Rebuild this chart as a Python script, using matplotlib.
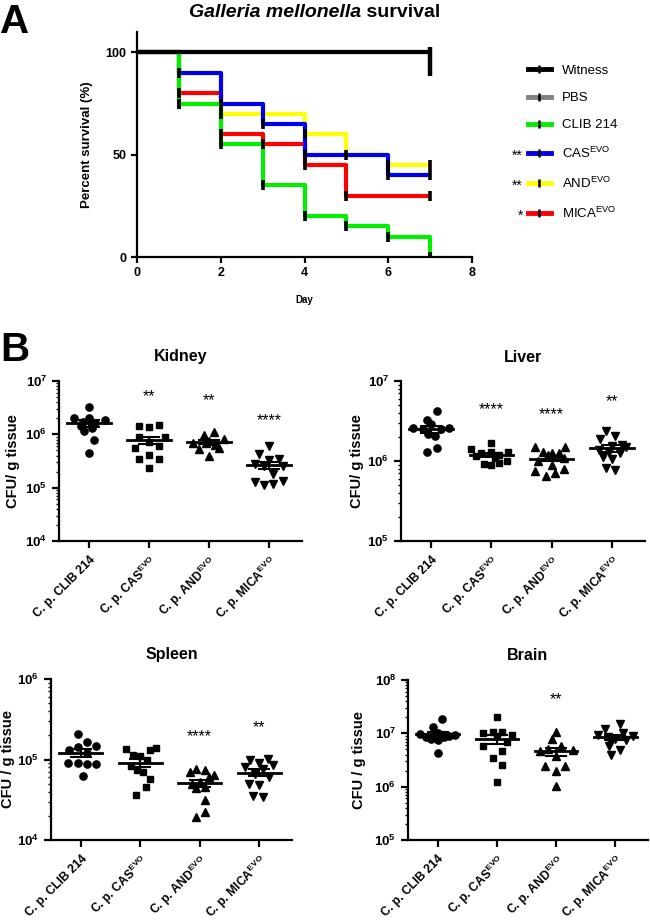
import numpy as np
import matplotlib
matplotlib.use('Agg')
import matplotlib.pyplot as plt
from matplotlib.path import Path
from matplotlib.lines import Line2D
from matplotlib.ticker import FixedLocator, FuncFormatter, LogLocator, NullFormatter

plt.rcParams['font.family'] = ['Liberation Sans', 'DejaVu Sans']
plt.rcParams['mathtext.fontset'] = 'custom'
plt.rcParams['mathtext.rm'] = 'Liberation Sans'
plt.rcParams['mathtext.bf'] = 'Liberation Sans:bold'
plt.rcParams['mathtext.it'] = 'Liberation Sans:italic'

# ---------------- data: panel A (survival, %) ----------------
days = [0, 1, 2, 3, 4, 5, 6, 7]
surv_witness = [100, 100, 100, 100, 100, 100, 100, 100]
surv_pbs = [100, 100, 100, 100, 100, 100, 100, 100]
surv_clib = [100, 75, 55, 35, 20, 15, 10, 0]
surv_cas = [100, 90, 75, 65, 50, 50, 40, 40]
surv_and = [100, 75, 70, 70, 60, 50, 45, 45]
surv_mica = [100, 80, 60, 55, 45, 30, 30, 30]
group_labels = ['Witness', 'PBS', 'CLIB 214', r'CAS$^{\mathrm{EVO}}$',
                r'AND$^{\mathrm{EVO}}$', r'MICA$^{\mathrm{EVO}}$']
group_stars = ['', '', '', '**', '**', '*']

# ---------------- data: panel B (CFU / g tissue) ----------------
strains = [r'C. p. CLIB 214', r'C. p. CAS$^{\mathbf{EVO}}$',
           r'C. p. AND$^{\mathbf{EVO}}$', r'C. p. MICA$^{\mathbf{EVO}}$']

kidney_clib = [3.3e6, 2.0e6, 2.05e6, 1.83e6, 1.74e6, 1.62e6, 1.45e6, 1.29e6, 1.16e6, 7.8e5, 4.4e5]
kidney_cas = [1.45e6, 1.39e6, 1.5e6, 9.1e5, 8.8e5, 7.3e5, 5.5e5, 6.0e5, 3.5e5, 4.1e5, 3.4e5, 2.3e5]
kidney_and = [1.1e6, 9.8e5, 8.1e5, 7.6e5, 7.0e5, 6.8e5, 6.2e5, 5.5e5, 5.3e5, 4.0e5]
kidney_mica = [6.0e5, 4.2e5, 3.5e5, 3.3e5, 2.8e5, 2.6e5, 2.5e5, 1.8e5, 1.27e5, 1.1e5, 1.15e5, 1.33e5]
kidney_sig = ['', '**', '**', '****']

liver_clib = [4.2e6, 3.3e6, 2.9e6, 2.6e6, 2.6e6, 2.5e6, 2.5e6, 2.2e6, 2.05e6, 1.47e6, 1.3e6]
liver_cas = [1.7e6, 1.4e6, 1.3e6, 1.3e6, 1.25e6, 1.2e6, 1.15e6, 1.1e6, 1.0e6, 9.5e5, 9.2e5, 8.8e5]
liver_and = [1.5e6, 1.5e6, 1.3e6, 1.26e6, 1.26e6, 1.2e6, 1.1e6, 1.0e6, 8.9e5, 7.9e5, 7.6e5, 7.1e5, 6.5e5]
liver_mica = [2.4e6, 2.05e6, 1.87e6, 1.6e6, 1.55e6, 1.5e6, 1.37e6, 1.3e6, 1.25e6, 1.11e6, 1.05e6, 8.2e5, 7.7e5]
liver_sig = ['', '****', '****', '**']

spleen_clib = [2.1e5, 1.67e5, 1.48e5, 1.42e5, 1.3e5, 1.2e5, 9.0e4, 9.0e4, 8.9e4, 8.8e4, 6.2e4]
spleen_cas = [1.4e5, 1.35e5, 1.3e5, 1.15e5, 1.1e5, 9.8e4, 8.2e4, 7.5e4, 7.0e4, 5.8e4, 4.6e4, 3.6e4]
spleen_and = [7.6e4, 7.4e4, 7.0e4, 6.4e4, 6.0e4, 5.2e4, 5.0e4, 4.6e4, 4.4e4, 3.1e4, 2.25e4, 1.95e4]
spleen_mica = [1.02e5, 9.8e4, 9.0e4, 8.5e4, 8.0e4, 7.6e4, 6.6e4, 6.0e4, 5.0e4, 4.8e4, 3.5e4, 3.4e4]
spleen_sig = ['', '', '****', '**']

brain_clib = [1.85e7, 1.33e7, 1.0e7, 9.8e6, 9.5e6, 9.0e6, 8.7e6, 8.5e6, 7.8e6, 7.5e6, 4.2e6]
brain_cas = [2.0e7, 1.07e7, 1.05e7, 1.0e7, 9.3e6, 9.0e6, 6.9e6, 5.7e6, 4.7e6, 3.4e6, 2.6e6, 1.23e6]
brain_and = [1.07e7, 7.8e6, 5.8e6, 5.0e6, 4.8e6, 4.6e6, 3.7e6, 2.4e6, 2.4e6, 2.0e6, 1.02e6]
brain_mica = [1.48e7, 1.2e7, 1.0e7, 9.3e6, 8.8e6, 8.4e6, 8.0e6, 7.5e6, 7.2e6, 5.7e6, 4.9e6, 4.0e6]
brain_sig = ['', '', '**', '']

# ---------------- layout (positions / styles) ----------------
W, H = 650, 924
off_kidney = [
    [0, -0.25, 0, 0.27, -0.1, 0.1, -0.13, 0.05, -0.08, 0.08, 0],
    [-0.16, 0, 0.17, -0.16, 0.27, 0, -0.23, 0.17, -0.16, 0, 0.17, 0],
    [0.08, -0.08, 0.25, 0.0, -0.05, -0.26, 0.1, 0.17, -0.16, 0],
    [0, -0.16, 0.16, 0.0, -0.23, 0.24, -0.08, 0.07, -0.23, -0.08, 0.07, 0.23],
]
off_liver = [
    [0.09, -0.07, 0.0, -0.3, 0.3, -0.14, 0.16, -0.06, 0.06, 0.09, -0.07],
    [0, -0.34, 0.27, 0.0, -0.17, 0.13, -0.26, 0.06, 0.26, 0.13, -0.13, 0.0],
    [-0.28, 0.23, -0.15, 0.0, 0.12, -0.06, 0.2, -0.22, 0.0, 0.2, -0.27, 0.06, -0.1],
    [-0.1, 0.06, -0.19, 0.16, 0.0, 0.23, -0.22, -0.05, 0.14, -0.15, 0.0, -0.1, 0.06],
]
off_spleen = [
    [-0.05, 0.1, 0.26, -0.05, -0.2, 0.1, -0.22, -0.05, 0.1, 0.26, 0.03],
    [0.27, -0.24, 0.16, -0.13, 0.0, 0.12, -0.16, -0.05, 0.05, 0.17, 0.09, -0.07],
    [-0.07, 0.09, -0.16, 0.24, 0.16, 0.0, -0.13, 0.09, -0.07, 0.09, 0.09, -0.07],
    [0.14, -0.16, 0.0, 0.23, -0.24, 0.07, -0.08, 0.16, -0.18, 0.0, -0.1, 0.06],
]
off_brain = [
    [0.08, -0.07, 0.0, -0.3, 0.3, 0.19, -0.19, 0.11, -0.11, 0.0, 0.0],
    [0, -0.07, 0.08, -0.23, 0.25, 0.0, 0.17, -0.23, 0.08, -0.07, 0.08, 0.0],
    [0, -0.07, 0.08, -0.14, 0.28, -0.28, 0.0, -0.18, 0.15, 0.0, 0.0],
    [0.07, -0.18, 0.12, -0.3, 0.3, -0.13, 0.0, 0.18, -0.07, -0.1, 0.07, -0.07],
]

panels = [
    dict(name='Kidney', groups=[kidney_clib, kidney_cas, kidney_and, kidney_mica], sig=kidney_sig,
         offs=off_kidney, ylim=(1e4, 1e7), px=(59, 302, 381, 541), sig_y=[0, 6.7, 6.63, 6.26],
         ylabel='CFU/ g tissue', ylab_x=-0.16),
    dict(name='Liver', groups=[liver_clib, liver_cas, liver_and, liver_mica], sig=liver_sig,
         offs=off_liver, ylim=(1e5, 1e7), px=(401, 645, 381, 541), sig_y=[0, 6.64, 6.58, 6.74],
         ylabel='CFU/ g tissue', ylab_x=-0.15),
    dict(name='Spleen', groups=[spleen_clib, spleen_cas, spleen_and, spleen_mica], sig=spleen_sig,
         offs=off_spleen, ylim=(1e4, 1e6), px=(51, 292, 679, 840), sig_y=[0, 0, 5.29, 5.4],
         ylabel='CFU / g tissue', ylab_x=-0.148),
    dict(name='Brain', groups=[brain_clib, brain_cas, brain_and, brain_mica], sig=brain_sig,
         offs=off_brain, ylim=(1e5, 1e8), px=(408, 648, 680, 840), sig_y=[0, 0, 7.64, 0],
         ylabel='CFU / g tissue', ylab_x=-0.175),
]
markers = ['o', 's', '^', 'v']
msizes = [5.2, 4.8, 5.4, 5.4]

fig = plt.figure(figsize=(W / 100, H / 100), dpi=100)


def ax_at(l, r, t, b):
    return fig.add_axes([l / W, 1 - b / H, (r - l) / W, (b - t) / H])


# ---------------- Panel A ----------------
axA = ax_at(137, 472, 32, 257)
curves = [surv_witness, surv_pbs, surv_clib, surv_cas, surv_and, surv_mica]
colors = ['#000000', '#808080', '#00ee00', '#0000ee', '#ffff00', '#ff0000']
zorders = [10, 9, 8, 7, 6, 5]
tick_marker = Path([(0, 0.2), (0, -1.0)], [Path.MOVETO, Path.LINETO])
handles = []
for surv, c, z, lab in zip(curves, colors, zorders, group_labels):
    axA.step(days, surv, where='post', color=c, lw=3.0, zorder=z, solid_capstyle='butt')
    # censor ticks at each drop and at end
    cx, cy = [], []
    for i in range(1, len(days)):
        if surv[i] != surv[i - 1] or i == len(days) - 1:
            cx.append(days[i]); cy.append(surv[i])
    if lab == 'Witness':
        axA.plot(cx[-1:], cy[-1:], ls='none', marker=tick_marker, ms=34, mew=3.2,
                 mec='k', zorder=12)
    elif lab != 'PBS':
        axA.plot(cx, cy, ls='none', marker='|', ms=7, mew=2.6, mec='k', zorder=11)
    handles.append(Line2D([], [], color=c, lw=3.5, marker='|', ms=6, mew=1.8, mec='k'))

axA.set_xlim(0, 8)
axA.set_ylim(0, 110)
axA.set_xticks([0, 2, 4, 6, 8])
axA.set_yticks([0, 50, 100])
for s in ['top', 'right']:
    axA.spines[s].set_visible(False)
for s in ['left', 'bottom']:
    axA.spines[s].set_linewidth(1.6)
axA.tick_params(width=1.6, length=4, labelsize=9)
for lbl in axA.get_xticklabels() + axA.get_yticklabels():
    lbl.set_fontweight('bold')
axA.set_ylabel('Percent survival (%)', fontsize=9.5, fontweight='bold')
axA.yaxis.set_label_coords(-0.13, 0.5)
axA.set_xlabel('Day', fontsize=7, fontweight='bold')
axA.xaxis.set_label_coords(0.5, -0.17)

leg = fig.legend(handles, group_labels, loc='upper left',
                 bbox_to_anchor=(516 / W, 1 - 53 / H), frameon=False,
                 fontsize=9.5, handlelength=1.75, handletextpad=0.85,
                 labelspacing=1.12, numpoints=1)

# panel letters and titles
fig.text(0.0, 1 - 3 / H, 'A', fontsize=29, fontweight='bold', va='top', ha='left')
fig.text(0.0, 1 - 331 / H, 'B', fontsize=29, fontweight='bold', va='top', ha='left')

t1 = fig.text(0, 1 - 17 / H, 'Galleria mellonella', fontsize=14, fontweight='bold',
              style='italic', va='baseline', ha='left')
t2 = fig.text(0, 1 - 17 / H, ' survival', fontsize=14, fontweight='bold',
              va='baseline', ha='left')

# ---------------- Panel B ----------------
for p in panels:
    l, r, t, b = p['px']
    ax = ax_at(l, r, t, b)
    ax.set_yscale('log')
    for k, (vals, offs) in enumerate(zip(p['groups'], p['offs'])):
        vals = np.asarray(vals, dtype=float)
        xs = k + np.asarray(offs[:len(vals)])
        ax.plot(xs, vals, ls='none', marker=markers[k], ms=msizes[k], color='k', zorder=3)
        m = vals.mean()
        sem = vals.std(ddof=1) / np.sqrt(len(vals))
        ax.plot([k - 0.36, k + 0.36], [m, m], color='k', lw=2.0, zorder=4)
        ax.errorbar([k], [m], yerr=[sem], color='k', lw=1.5, capsize=8, capthick=1.5,
                    zorder=4)
        if p['sig'][k]:
            ax.text(k, 10 ** p['sig_y'][k], p['sig'][k], ha='center', va='center',
                    fontsize=11.5, zorder=5)
    ax.set_xlim(-0.5, 3.55)
    ax.set_ylim(*p['ylim'])
    lo, hi = [int(round(np.log10(v))) for v in p['ylim']]
    ax.yaxis.set_major_locator(FixedLocator([10.0 ** e for e in range(lo, hi + 1)]))
    ax.yaxis.set_major_formatter(FuncFormatter(
        lambda v, pos: r'$\mathbf{10^{%d}}$' % int(round(np.log10(v)))))
    ax.yaxis.set_minor_locator(LogLocator(base=10, subs=np.arange(2, 10), numticks=20))
    ax.yaxis.set_minor_formatter(NullFormatter())
    ax.set_xticks(range(4))
    ax.set_xticklabels(strains, rotation=45, ha='right', va='top',
                       rotation_mode='anchor', fontsize=8.7, fontweight='bold')
    for s in ['top', 'right']:
        ax.spines[s].set_visible(False)
    for s in ['left', 'bottom']:
        ax.spines[s].set_linewidth(1.6)
    ax.tick_params(axis='both', which='major', width=1.6, length=5, labelsize=9.5)
    ax.tick_params(axis='y', which='minor', width=1.0, length=2.5)
    ax.tick_params(axis='x', which='major', pad=4, labelsize=8.7)
    ax.set_ylabel(p['ylabel'], fontsize=10.5, fontweight='bold')
    ax.yaxis.set_label_coords(p['ylab_x'], 0.5)
    ax.text(0.5, 1.15, p['name'], transform=ax.transAxes, ha='center', va='center',
            fontsize=11.5, fontweight='bold')

# position title pieces and legend stars
fig.canvas.draw()
renderer = fig.canvas.get_renderer()
w1 = t1.get_window_extent(renderer).width
w2 = t2.get_window_extent(renderer).width
cx = 315
x0 = cx - (w1 + w2) / 2
t1.set_x(x0 / W)
t2.set_x((x0 + w1) / W)

for h, st in zip(leg.legend_handles, group_stars):
    if st:
        bb = h.get_window_extent(renderer)
        fig.text((bb.x0 - 1) / W, (bb.y0 + bb.y1) / 2 / H - 2 / H, st, ha='right',
                 va='center', fontsize=10)

fig.savefig('out.png', dpi=100)
